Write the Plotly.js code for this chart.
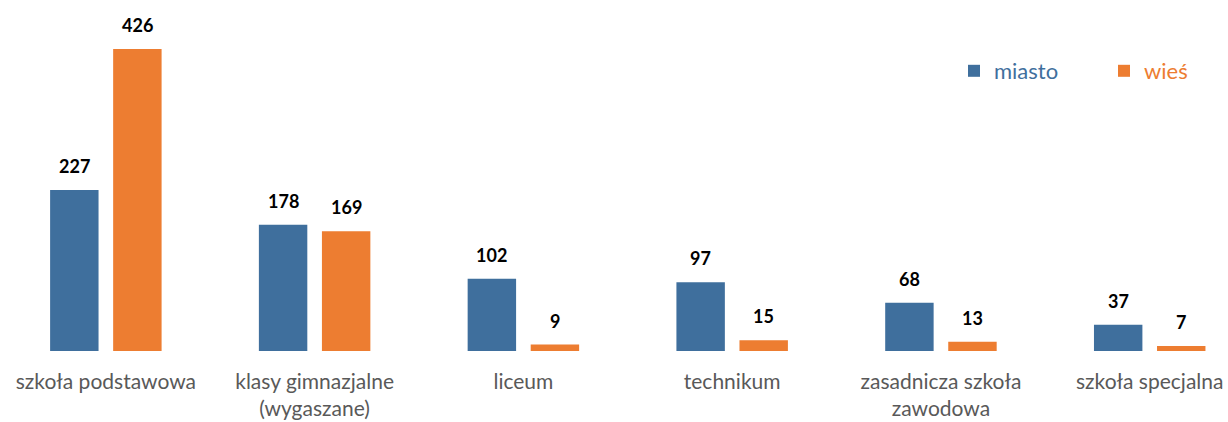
<!DOCTYPE html>
<html><head><meta charset="utf-8">
<script src="https://cdn.plot.ly/plotly-3.0.1.min.js"></script>
<style>body{margin:0;background:#fff}#c{width:1228px;height:422px}</style>
</head><body><div id="c"></div>
<script>
const categories = ['szkoła podstawowa', 'klasy gimnazjalne<br>(wygaszane)', 'liceum', 'technikum', 'zasadnicza szkoła<br>zawodowa', 'szkoła specjalna'];
const miasto = [227, 178, 102, 97, 68, 37];
const wies = [426, 169, 9, 15, 13, 7];
const seriesNames = ['miasto', 'wieś'];

const BLUE = '#3F6F9D', ORANGE = '#ED7D31';
const W = 0.232, OFF = 0.151;
const idx = categories.map((_, i) => i);

const traces = [
  {type:'bar', x: idx, y: miasto, name: '<span style="color:'+BLUE+'">'+seriesNames[0]+'</span>',
   marker:{color:BLUE}, width: W, offset: -OFF - W/2, hoverinfo:'y', legend:'legend'},
  {type:'bar', x: idx, y: wies, name: '<span style="color:'+ORANGE+'">'+seriesNames[1]+'</span>',
   marker:{color:ORANGE}, width: W, offset: OFF - W/2, hoverinfo:'y', legend:'legend2'}
];

const ann = [];
[[miasto, -OFF], [wies, OFF]].forEach(([arr, o]) => {
  arr.forEach((v, i) => ann.push({x: i + o, y: v, xref:'x', yref:'y', text: String(v), showarrow:false,
    yanchor:'middle', yshift: 24, font:{family:'Lato, sans-serif', size:18, color:'#000', weight:700}}));
});

const legBase = {orientation:'h', xref:'paper', yref:'paper', yanchor:'middle', font:{size:22}, bgcolor:'rgba(0,0,0,0)'};
const layout = {
  width:1228, height:422,
  margin:{l:0, r:0, t:0, b:71},
  paper_bgcolor:'#fff', plot_bgcolor:'#fff',
  barmode:'overlay',
  font:{family:'Lato, sans-serif'},
  xaxis:{range:[-0.507, 5.375], tickvals: idx, ticktext: categories, showgrid:false, zeroline:false,
    showline:false, ticks:'', ticklabelstandoff: 16, tickfont:{size:21, color:'#595959'}, automargin:false},
  yaxis:{range:[0, 495.1], visible:false, showgrid:false, zeroline:false},
  showlegend:true,
  legend: Object.assign({}, legBase, {x:(968-14)/1228, y:(351-71)/351}),
  legend2: Object.assign({}, legBase, {x:(1118-14)/1228, y:(351-71)/351}),
  annotations: ann
};
Plotly.newPlot('c', traces, layout, {staticPlot:true, displayModeBar:false});
</script></body></html>
